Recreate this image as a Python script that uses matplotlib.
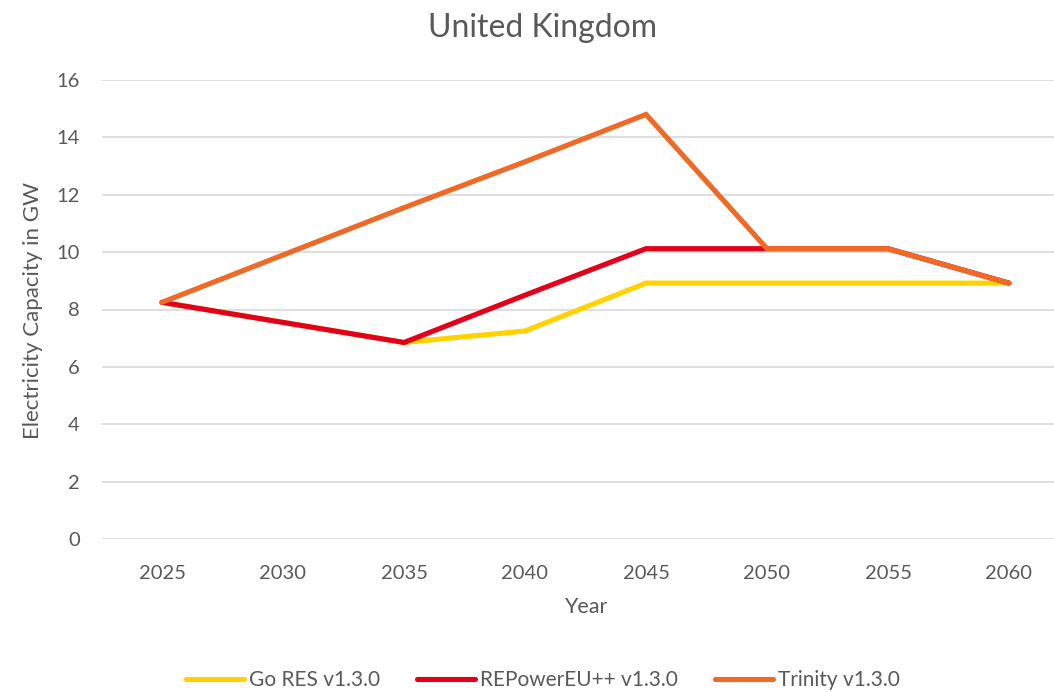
import matplotlib
matplotlib.use("Agg")
import matplotlib.pyplot as plt

years = ["2025", "2030", "2035", "2040", "2045", "2050", "2055", "2060"]
go_res = [8.25, 7.55, 6.85, 7.25, 8.92, 8.92, 8.92, 8.92]
repower = [8.25, 7.55, 6.85, 8.5, 10.12, 10.12, 10.12, 8.92]
trinity = [8.25, 9.9, 11.55, 13.15, 14.8, 10.12, 10.12, 8.92]

plt.rcParams['font.family'] = ['Lato', 'DejaVu Sans']
txt = '#595959'

fig = plt.figure(figsize=(10.54, 6.92), dpi=100)
W, H = 1054, 692
x0 = 102
x2025 = 162
step = 121.0
left = x0 / W
right_px = W
ax = fig.add_axes([left, (H - 539) / H, (right_px - x0) / W, (539 - 80) / H])

xs = list(range(len(years)))
ax.plot(xs, go_res, color='#FFD200', lw=3.7, solid_capstyle='round', solid_joinstyle='miter', label='Go RES v1.3.0', zorder=3)
ax.plot(xs, repower, color='#E2001A', lw=3.7, solid_capstyle='round', solid_joinstyle='miter', label='REPowerEU++ v1.3.0', zorder=4)
ax.plot(xs, trinity, color='#EE6A26', lw=3.7, solid_capstyle='round', solid_joinstyle='miter', label='Trinity v1.3.0', zorder=5)

xmin = -(x2025 - x0) / step
xmax = (right_px - x2025) / step
ax.set_xlim(xmin, xmax)
ax.set_ylim(0, 16)
ax.set_yticks(range(0, 17, 2))
ax.set_xticks(xs)
ax.set_xticklabels(years)
ax.grid(axis='y', color='#D9D9D9', lw=1.2)
ax.set_axisbelow(True)
for s in ax.spines.values():
    s.set_visible(False)
ax.tick_params(length=0, colors=txt, labelsize=14.5)
ax.tick_params(axis='y', pad=16)
ax.tick_params(axis='x', pad=19)

fig.text(543 / W, 1 - 28 / H, 'United Kingdom', ha='center', va='center', fontsize=23, color=txt)
fig.text(586 / W, 1 - 607 / H, 'Year', ha='center', va='center', fontsize=15.5, color=txt)
fig.text(33 / W, 1 - 311 / H, 'Electricity Capacity in GW', ha='center', va='center', rotation=90, fontsize=16, color=txt)

handles, labels = ax.get_legend_handles_labels()
leg = fig.legend(handles, labels, loc='center', bbox_to_anchor=(543 / W, 1 - 680 / H), ncol=3, frameon=False,
                 fontsize=15, handlelength=2.75, columnspacing=1.8, handletextpad=0.25)
for t in leg.get_texts():
    t.set_color(txt)

fig.savefig('out.png', dpi=100)
